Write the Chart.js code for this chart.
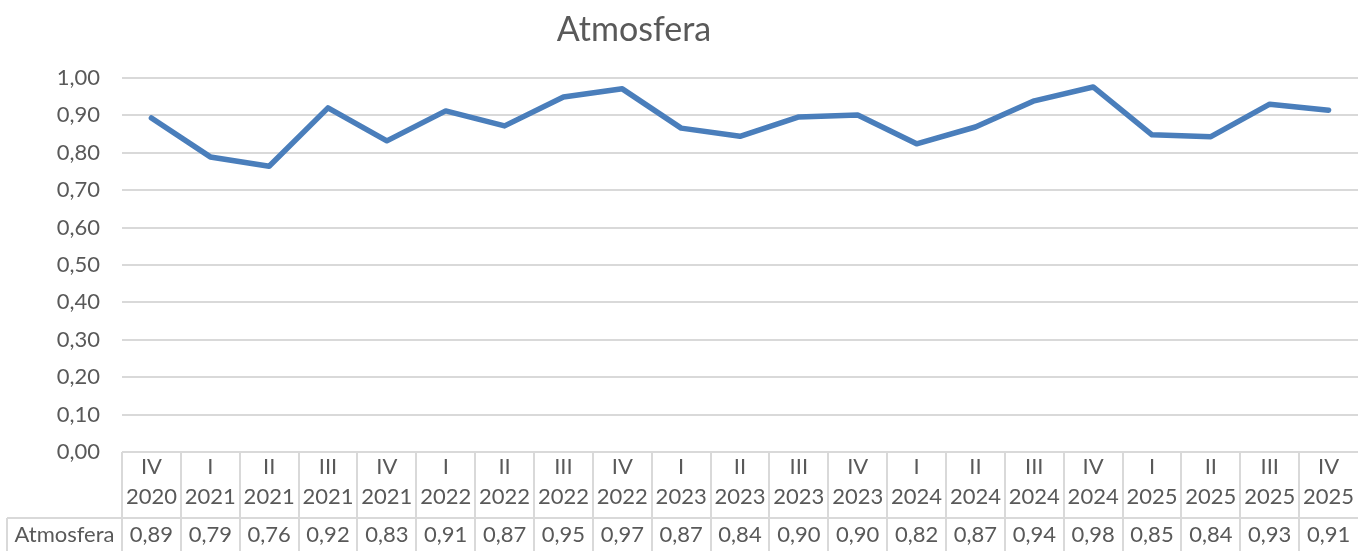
<!DOCTYPE html>
<html>
<head>
<meta charset="utf-8">
<script src="https://cdn.jsdelivr.net/npm/chart.js@4"></script>
<style>
  body { margin: 0; background: #fff; }
  #wrap { width: 1358px; height: 551px; }
</style>
</head>
<body>
<div id="wrap"><canvas id="chart"></canvas></div>
<script>
// Dados do gráfico
const quarters = ["IV", "I", "II", "III", "IV", "I", "II", "III", "IV", "I", "II", "III", "IV", "I", "II", "III", "IV", "I", "II", "III", "IV"];
const years = ["2020", "2021", "2021", "2021", "2021", "2022", "2022", "2022", "2022", "2023", "2023", "2023", "2023", "2024", "2024", "2024", "2024", "2025", "2025", "2025", "2025"];
const atmosfera = [0.893, 0.789, 0.764, 0.92, 0.832, 0.912, 0.872, 0.949, 0.971, 0.866, 0.844, 0.896, 0.901, 0.824, 0.869, 0.939, 0.976, 0.848, 0.843, 0.93, 0.914];
const seriesName = "Atmosfera";
const chartTitle = "Atmosfera";

const textColor = "#595959";
const lineColor = "#d9d9d9";
const fontFamily = "Lato, 'Open Sans', sans-serif";

function fmt(v) {
  return v.toFixed(2).replace(".", ",");
}

// Título e tabela de dados embaixo do gráfico
const dataTable = {
  id: "dataTable",
  afterDraw(chart) {
    const ctx = chart.ctx;
    const x = chart.scales.x;
    const area = chart.chartArea;
    const step = x.getPixelForValue(1) - x.getPixelForValue(0);
    const top = area.bottom;
    const rowTop = 518;
    const bottom = chart.height;

    ctx.save();
    ctx.fillStyle = textColor;
    ctx.textAlign = "center";
    ctx.textBaseline = "middle";
    ctx.font = "34px " + fontFamily;
    ctx.fillText(chartTitle, 634, 30);

    ctx.strokeStyle = lineColor;
    ctx.lineWidth = 2;
    ctx.beginPath();
    // linhas horizontais
    ctx.moveTo(7, rowTop);
    ctx.lineTo(area.right, rowTop);
    ctx.moveTo(7, rowTop);
    ctx.lineTo(7, bottom);
    // linhas verticais entre categorias
    for (let i = 0; i < quarters.length; i++) {
      const left = Math.round(x.getPixelForValue(i) - step / 2);
      ctx.moveTo(left, top);
      ctx.lineTo(left, bottom);
    }
    ctx.stroke();

    ctx.font = "22px " + fontFamily;
    for (let i = 0; i < quarters.length; i++) {
      const cx = x.getPixelForValue(i);
      ctx.fillText(quarters[i], cx, 467);
      ctx.fillText(years[i], cx, 497);
      ctx.fillText(fmt(atmosfera[i]), cx, 535);
    }
    ctx.fillText(seriesName, (7 + area.left) / 2, 535);
    ctx.restore();
  },
};

new Chart(document.getElementById("chart"), {
  type: "line",
  data: {
    labels: quarters.map((q, i) => q + " " + years[i]),
    datasets: [
      {
        label: seriesName,
        data: atmosfera,
        borderColor: "#4a7ebb",
        backgroundColor: "#4a7ebb",
        borderWidth: 5.5,
        borderCapStyle: "round",
        borderJoinStyle: "round",
        pointRadius: 0,
        tension: 0,
      },
    ],
  },
  options: {
    responsive: true,
    maintainAspectRatio: false,
    animation: false,
    layout: { padding: { top: 78, right: 0, bottom: 91, left: 0 } },
    plugins: {
      legend: { display: false },
      tooltip: { enabled: false },
      title: { display: false },
    },
    scales: {
      x: {
        offset: true,
        grid: { display: false },
        border: { display: false },
        ticks: { display: false },
      },
      y: {
        min: 0,
        max: 1,
        border: { display: false },
        grid: { color: lineColor, lineWidth: 2, drawTicks: false },
        ticks: {
          stepSize: 0.1,
          padding: 22,
          color: textColor,
          font: { family: fontFamily, size: 22 },
          callback: (v) => fmt(v),
        },
        afterFit(scale) {
          scale.width = 122;
        },
      },
    },
  },
  plugins: [dataTable],
});
</script>
</body>
</html>
